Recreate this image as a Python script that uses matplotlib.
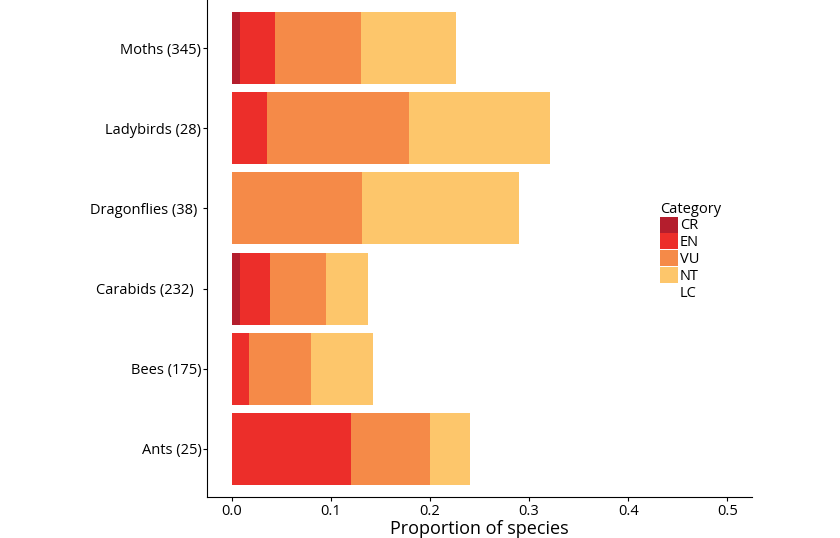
import matplotlib
matplotlib.use('Agg')
import matplotlib.pyplot as plt
from matplotlib.patches import Patch
import numpy as np

plt.rcParams['font.family'] = ['Open Sans', 'DejaVu Sans']

# taxon groups, bottom to top, with number of species assessed
groups = ['Ants (25)', 'Bees (175)', 'Carabids (232)  ', 'Dragonflies (38) ',
          'Ladybirds (28)', 'Moths (345)']
n_species = [25, 175, 232, 38, 28, 345]

categories = ['CR', 'EN', 'VU', 'NT', 'LC']
# species counts per category for each group (LC not drawn, rest of the group)
cr = [0, 0, 2, 0, 0, 3]
en = [3, 3, 7, 0, 1, 12]
vu = [2, 11, 13, 5, 4, 30]
nt = [1, 11, 10, 6, 4, 33]

colours = ['#B41E2D', '#EC2E2A', '#F58A48', '#FDC66B', '#FFFFFF']

fig = plt.figure(figsize=(8.4, 5.38), dpi=100)
ax = fig.add_axes([207 / 840, 1 - 497 / 538, 545 / 840, 497 / 538])

y = np.arange(1, len(groups) + 1)
tot = np.array(n_species, dtype=float)
left = np.zeros(len(groups))
for counts, col in zip([cr, en, vu, nt], colours):
    w = np.array(counts) / tot
    ax.barh(y, w, left=left, height=0.9, color=col, linewidth=0)
    left += w

ax.set_xlim(-0.025, 0.525)
ax.set_ylim(0.4, 6.6)
ax.set_xticks([0, 0.1, 0.2, 0.3, 0.4, 0.5])
ax.set_xticklabels(['0.0', '0.1', '0.2', '0.3', '0.4', '0.5'])
ax.set_yticks(y)
ax.set_yticklabels(groups)
ax.tick_params(axis='both', labelsize=10.5, length=3, width=0.8, color='black')
ax.tick_params(axis='y', pad=1)
ax.tick_params(axis='x', pad=2)
ax.set_xlabel('Proportion of species', fontsize=13, labelpad=1)

for s in ['top', 'right']:
    ax.spines[s].set_visible(False)
ax.spines['left'].set_linewidth(0.8)
ax.spines['bottom'].set_linewidth(0.8)

handles = [Patch(facecolor=c, edgecolor='none') for c in colours]
leg = fig.legend(handles, categories, title='Category', loc='upper left',
                 bbox_to_anchor=(656 / 840, 1 - 198 / 538), fontsize=10.5,
                 title_fontsize=10.5, frameon=True, handlelength=1.25,
                 handleheight=1.3, labelspacing=0.0, handletextpad=0.15,
                 borderpad=0.25, borderaxespad=0, alignment='left')
leg.get_frame().set_edgecolor('none')
leg.get_frame().set_facecolor('white')
leg.get_frame().set_boxstyle('square', pad=0)

fig.savefig('out.png', dpi=100)
